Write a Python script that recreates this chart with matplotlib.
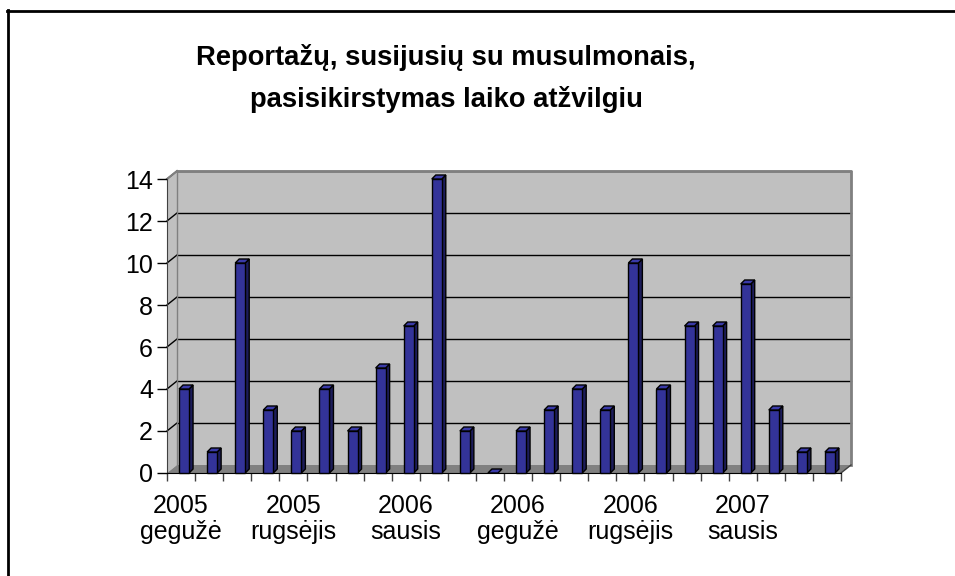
import matplotlib.pyplot as plt
from matplotlib.patches import Polygon, Rectangle
from matplotlib.lines import Line2D
import numpy as np

plt.rcParams['font.family'] = ['Liberation Sans', 'DejaVu Sans']

# Datos: reportažai per mėnesį (2005 gegužė - 2007 balandis)
menesiai = ['2005\ngegužė', '2005\nbirželis', '2005\nliepa', '2005\nrugpjūtis',
            '2005\nrugsėjis', '2005\nspalis', '2005\nlapkritis', '2005\ngruodis',
            '2006\nsausis', '2006\nvasaris', '2006\nkovas', '2006\nbalandis',
            '2006\ngegužė', '2006\nbirželis', '2006\nliepa', '2006\nrugpjūtis',
            '2006\nrugsėjis', '2006\nspalis', '2006\nlapkritis', '2006\ngruodis',
            '2007\nsausis', '2007\nvasaris', '2007\nkovas', '2007\nbalandis']
valores = [4, 1, 10, 3, 2, 4, 2, 5, 7, 14, 2, 0, 2, 3, 4, 3, 10, 4, 7, 7, 9, 3, 1, 1]
ticks_y = [0, 2, 4, 6, 8, 10, 12, 14]
paso_etiquetas = 4

titulo_1 = 'Reportažų, susijusių su musulmonais,'
titulo_2 = 'pasisikirstymas laiko atžvilgiu'

n = len(valores)
x0, x1 = -0.5, n - 0.5
y0, y1 = 0, 14

fig = plt.figure(figsize=(9.55, 5.76), dpi=100)
ax = fig.add_axes([167 / 955, 1 - 473 / 576, 674 / 955, 294 / 576])
ax.set_xlim(x0, x1)
ax.set_ylim(y0, y1)

# profundidad 3D en unidades de datos (aprox. 10 px x 8 px)
px_x = (x1 - x0) / 674
px_y = (y1 - y0) / 294
dx, dy = 10 * px_x, 8 * px_y
bdx, bdy = 4 * px_x, 4 * px_y

gris = '#C0C0C0'
gris_osc = '#808080'

# pared del fondo, pared lateral y piso
ax.add_patch(Rectangle((x0 + dx, y0 + dy), x1 - x0, y1 - y0, facecolor=gris,
                       edgecolor='none', clip_on=False, zorder=0))
ax.add_patch(Polygon([(x0, y0), (x0 + dx, y0 + dy), (x0 + dx, y1 + dy), (x0, y1)],
                     closed=True, facecolor=gris, edgecolor='none', clip_on=False, zorder=0))
ax.add_patch(Polygon([(x0, y0), (x1, y0), (x1 + dx, y0 + dy), (x0 + dx, y0 + dy)],
                     closed=True, facecolor=gris_osc, edgecolor='none', clip_on=False, zorder=1))

# líneas de cuadrícula
for t in ticks_y[1:]:
    ax.plot([x0 + dx, x1 + dx], [t + dy, t + dy], color='black', lw=1, clip_on=False, zorder=1)
    ax.plot([x0, x0 + dx], [t, t + dy], color='black', lw=1, clip_on=False, zorder=1)
# bordes de la pared
ax.plot([x0 + dx, x1 + dx, x1 + dx], [y1 + dy, y1 + dy, y0 + dy], color=gris_osc, lw=2,
        clip_on=False, zorder=1)
ax.plot([x0, x0 + dx], [y1, y1 + dy], color=gris_osc, lw=1.5, clip_on=False, zorder=1)
ax.plot([x0 + dx, x0 + dx], [y0 + dy, y1 + dy], color=gris_osc, lw=1, clip_on=False, zorder=1)
ax.plot([x1, x1 + dx], [y0, y0 + dy], color='#404040', lw=1, clip_on=False, zorder=1)

# barras 3D
ancho = 10 * px_x
desp = 3 * px_x
azul = '#333399'
azul_lado = '#1C1C5A'
azul_top = '#3A3AA8'
for i, v in enumerate(valores):
    xl = i + desp - ancho / 2
    xr = xl + ancho
    if v > 0:
        ax.add_patch(Polygon([(xr, 0), (xr + bdx, bdy), (xr + bdx, v + bdy), (xr, v)],
                             closed=True, facecolor=azul_lado, edgecolor='black', lw=1,
                             clip_on=False, zorder=3))
        ax.bar(i + desp, v, width=ancho, color=azul, edgecolor='black', lw=1,
               clip_on=False, zorder=3)
    ax.add_patch(Polygon([(xl, v), (xr, v), (xr + bdx, v + bdy), (xl + bdx, v + bdy)],
                         closed=True, facecolor=azul_top, edgecolor='black', lw=1,
                         clip_on=False, zorder=3))

# ejes
for s in ['top', 'right']:
    ax.spines[s].set_visible(False)
ax.spines['left'].set_color('#404040')
ax.spines['bottom'].set_color('black')
ax.spines['left'].set_zorder(2)
ax.spines['bottom'].set_zorder(2)

ax.set_yticks(ticks_y)
ax.tick_params(axis='y', length=7, width=1, pad=3, labelsize=18, colors='black')

pos = list(range(0, n, paso_etiquetas))
ax.set_xticks(pos, [menesiai[p] for p in pos])
ax.set_xticks(np.arange(x0, x1 + 0.01, 1), minor=True)
ax.tick_params(axis='x', which='major', length=0, pad=15, labelsize=18)
ax.tick_params(axis='x', which='minor', length=6, width=1, color='#404040')
for lab in ax.get_xticklabels():
    lab.set_linespacing(1.12)

# título
fig.text(446 / 955, 1 - 65 / 576, titulo_1, ha='center', va='baseline',
         fontsize=19.7, fontweight='bold')
fig.text(446 / 955, 1 - 107 / 576, titulo_2, ha='center', va='baseline',
         fontsize=19.7, fontweight='bold')

# marco
fig.add_artist(Line2D([7.5 / 955, 7.5 / 955], [0, 1 - 10 / 576], color='black', lw=2))
fig.add_artist(Line2D([6.5 / 955, 1], [1 - 10.5 / 576, 1 - 10.5 / 576], color='black', lw=2))

fig.savefig('out.png', dpi=100)
